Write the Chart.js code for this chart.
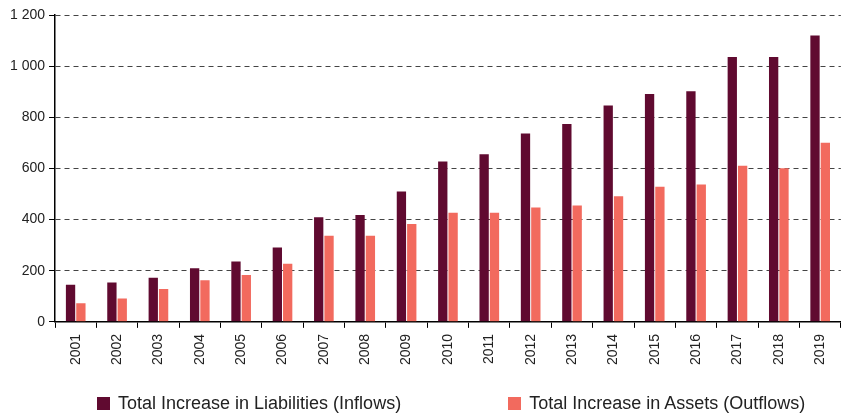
<!DOCTYPE html>
<html lang="en">
<head>
<meta charset="UTF-8">
<title>Total Increase in Liabilities and Assets</title>
<script src="https://cdn.jsdelivr.net/npm/chart.js"></script>
<style>
  html, body { margin: 0; padding: 0; background: #fff; }
  #wrap { position: relative; width: 843px; height: 413px; }
  #legend {
    position: absolute; left: 97px; top: 393px;
    display: flex; gap: 107px;
    font-family: "Liberation Sans", Arial, sans-serif; font-size: 18px; color: #222;
  }
  #legend span.item { display: flex; align-items: center; white-space: nowrap; }
  #legend span.box { display: inline-block; width: 13px; height: 13px; margin-right: 8px; }
</style>
</head>
<body>
<div id="wrap">
  <canvas id="flowsChart" width="843" height="413"></canvas>
  <div id="legend"></div>
</div>
<script>
// years on the x axis
const years = ['2001', '2002', '2003', '2004', '2005', '2006', '2007', '2008', '2009', '2010',
               '2011', '2012', '2013', '2014', '2015', '2016', '2017', '2018', '2019'];

const liabilities = [145, 154, 172, 210, 236, 291, 409, 418, 510, 627,
                     655, 737, 774, 846, 891, 902, 1036, 1036, 1120];
const assets = [73, 91, 128, 163, 183, 227, 337, 337, 383, 427,
                427, 447, 455, 491, 528, 537, 610, 601, 700];

const seriesNames = ['Total Increase in Liabilities (Inflows)', 'Total Increase in Assets (Outflows)'];
const seriesColors = ['#600a30', '#f26a5e'];

const fontFamily = '"Liberation Sans", Arial, sans-serif';

const ctx = document.getElementById('flowsChart').getContext('2d');
new Chart(ctx, {
  type: 'bar',
  data: {
    labels: years,
    datasets: [{
      label: seriesNames[0],
      data: liabilities,
      backgroundColor: seriesColors[0],
      categoryPercentage: 0.5,
      barPercentage: 0.9
    }, {
      label: seriesNames[1],
      data: assets,
      backgroundColor: seriesColors[1],
      categoryPercentage: 0.5,
      barPercentage: 0.9
    }]
  },
  options: {
    responsive: false,
    animation: false,
    layout: { padding: { top: 15, left: 6, right: 1, bottom: 42 } },
    plugins: {
      legend: { display: false },
      tooltip: { enabled: false }
    },
    scales: {
      x: {
        grid: { drawOnChartArea: false, drawTicks: true, tickLength: 6, color: '#000' },
        border: { color: '#000', width: 1.5 },
        ticks: {
          color: '#222',
          font: { family: fontFamily, size: 14 },
          minRotation: 90,
          maxRotation: 90,
          padding: 6
        }
      },
      y: {
        min: 0,
        max: 1200,
        grid: { color: '#444', tickColor: '#000', tickLength: 6, lineWidth: 1 },
        border: { color: '#000', width: 1.5, dash: [5, 4] },
        ticks: {
          stepSize: 200,
          color: '#222',
          padding: 4,
          font: { family: fontFamily, size: 14 },
          callback: v => String(v).replace(/\B(?=(\d{3})+(?!\d))/g, ' ')
        }
      }
    }
  }
});

// legend under the chart
const legend = document.getElementById('legend');
seriesNames.forEach((name, i) => {
  const item = document.createElement('span');
  item.className = 'item';
  item.innerHTML = '<span class="box" style="background:' + seriesColors[i] + '"></span>' + name;
  legend.appendChild(item);
});
</script>
</body>
</html>
